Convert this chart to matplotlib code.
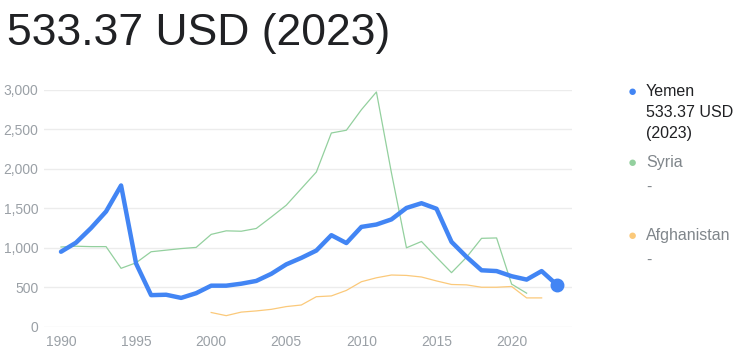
import matplotlib.pyplot as plt
from matplotlib.ticker import FuncFormatter

plt.rcParams['font.family'] = ['Liberation Sans', 'DejaVu Sans']

# GDP per capita, USD
yemen_years = list(range(1990, 2024))
yemen = [950, 1065, 1250, 1460, 1790, 800, 400, 405, 365, 425,
         520, 520, 545, 580, 670, 790, 872, 965, 1160, 1060,
         1265, 1295, 1360, 1505, 1565, 1495, 1075, 885, 715, 705,
         640, 597, 705, 533.37]
syria_years = list(range(1990, 2022))
syria = [1010, 1020, 1015, 1015, 740, 810, 950, 970, 990, 1005,
         1170, 1215, 1210, 1245, 1390, 1540, 1750, 1960, 2455, 2490,
         2750, 2975, 1950, 1000, 1080, 880, 685, 880, 1120, 1125,
         540, 425]
afg_years = list(range(2000, 2023))
afghanistan = [180, 140, 185, 200, 220, 255, 275, 380, 390, 460,
               570, 620, 655, 650, 630, 580, 535, 530, 500, 500,
               510, 365, 365]

blue = '#4285f4'
green = '#93d09e'
orange = '#fbc97a'
grey = '#9aa0a6'

fig = plt.figure(figsize=(7.41, 3.56), dpi=100)
ax = fig.add_axes([0.0594, 0.0823, 0.7121, 0.6649])

ax.plot(syria_years, syria, color=green, lw=0.9, zorder=2)
ax.plot(afg_years, afghanistan, color=orange, lw=0.9, zorder=2)
ax.plot(yemen_years, yemen, color=blue, lw=3.2, solid_joinstyle='round',
        solid_capstyle='round', zorder=3)
ax.plot(yemen_years[-1], yemen[-1], 'o', color=blue, ms=9, zorder=4)

ax.set_xlim(1988.87, 2024.0)
ax.set_ylim(0, 3000)
ax.set_xticks(range(1990, 2021, 5))
ax.set_yticks(range(0, 3001, 500))
ax.yaxis.set_major_formatter(FuncFormatter(lambda v, p: f'{int(v):,}'))
ax.tick_params(axis='both', length=0, labelsize=10, colors=grey)
ax.tick_params(axis='y', pad=4)
ax.tick_params(axis='x', pad=6)
ax.grid(axis='y', color='#ececec', lw=1)
ax.set_axisbelow(True)
for s in ax.spines.values():
    s.set_visible(False)

# title
fig.text(0.009, 0.905, '533.37 USD (2023)', fontsize=32, color='#202124',
         va='center', ha='left')

# legend on the right
lx_dot = 632 / 741
lx_txt = 646 / 741
def fy(py):
    return 1 - py / 356

fig.text(lx_dot, fy(92), '\u25CF', color=blue, fontsize=11, ha='center', va='center')
fig.text(lx_txt, fy(84), 'Yemen\n533.37 USD\n(2023)', color='#202124', fontsize=11.5,
         ha='left', va='top', linespacing=1.5)
fig.text(lx_dot, fy(163), '\u25CF', color=green, fontsize=11, ha='center', va='center')
fig.text(lx_txt, fy(155), 'Syria\n-', color='#80868b', fontsize=11.5,
         ha='left', va='top', linespacing=1.85)
fig.text(lx_dot, fy(236), '\u25CF', color=orange, fontsize=11, ha='center', va='center')
fig.text(lx_txt, fy(228), 'Afghanistan\n-', color='#80868b', fontsize=11.5,
         ha='left', va='top', linespacing=1.85)

fig.savefig('out.png', dpi=100, facecolor='white')
